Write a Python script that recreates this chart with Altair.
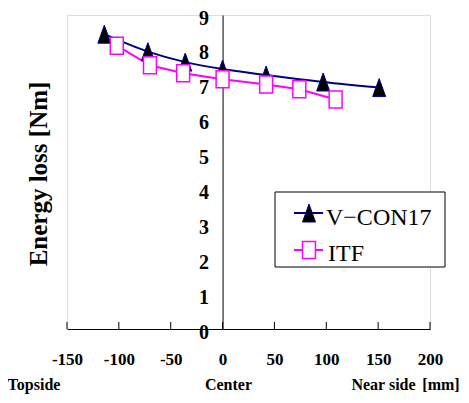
import altair as alt
import pandas as pd

# ---- data ----
series_names = ["V−CON17", "ITF"]
vcon_x = [-114, -72, -36, 0, 42, 97, 151]
vcon_y = [8.45, 7.95, 7.65, 7.45, 7.28, 7.08, 6.92]
itf_x = [-102, -70, -38, 0, 42, 74, 109]
itf_y = [8.12, 7.56, 7.33, 7.16, 7.01, 6.87, 6.58]
x_ticks = [-150, -100, -50, 0, 50, 100, 150, 200]
y_ticks = [0, 1, 2, 3, 4, 5, 6, 7, 8, 9]
y_title = "Energy loss [Nm]"
bottom_labels = ["Topside", "Center", "Near side", "[mm]"]

FONT = "'Liberation Serif', 'Times New Roman', Times, serif"
NAVY = "#000080"
MAGENTA = "#FF00FF"
TRI = "M0,-1L0.72,1L-0.72,1Z"
SQR = "M-0.76,-1L0.76,-1L0.76,1L-0.76,1Z"

W, H = 363, 314

vcon = pd.DataFrame({"x": vcon_x, "y": vcon_y, "s": series_names[0]})
itf = pd.DataFrame({"x": itf_x, "y": itf_y, "s": series_names[1]})
ticks = pd.DataFrame({"x": x_ticks})

xscale = alt.Scale(domain=[-150, 200], nice=False, zero=False)
yscale = alt.Scale(domain=[0, 9], nice=False)
xaxis = alt.Axis(values=x_ticks, title=None, grid=False, ticks=False, tickSize=0,
                 domainColor="black", domainWidth=1, labelPadding=22,
                 labelFont=FONT, labelFontSize=17, labelFontWeight="bold",
                 labelColor="black", labelOverlap=False, labelFlush=False,
                 labelExpr="replace(datum.label, '\u2212', '-')")
yaxis = alt.Axis(values=y_ticks, title=None, grid=False, ticks=False, tickSize=0,
                 offset=-(150 / 350) * W, domainColor="black", domainWidth=1,
                 labelPadding=14, labelFont=FONT, labelFontSize=20,
                 labelFontWeight="bold", labelColor="black", labelOffset=3,
                 labelOverlap=False, labelFlush=False)

X = alt.X("x:Q", scale=xscale, axis=xaxis)
Y = alt.Y("y:Q", scale=yscale, axis=yaxis)

tick_layer = alt.Chart(ticks).mark_rule(color="black", strokeWidth=1).encode(
    x=alt.X("x:Q", scale=xscale, axis=xaxis),
    y=alt.value(H), y2=alt.value(H - 7))

vcon_line = alt.Chart(vcon).mark_line(color=NAVY, strokeWidth=2, interpolate="monotone").encode(x=X, y=Y)
itf_line = alt.Chart(itf).mark_line(color=MAGENTA, strokeWidth=2).encode(x=X, y=Y)
vcon_pts = alt.Chart(vcon).mark_point(shape=TRI, size=324, filled=True, fill="black",
                                      stroke=NAVY, strokeWidth=1, opacity=1).encode(x=X, y=Y)
itf_pts = alt.Chart(itf).mark_point(shape=SQR, size=289, filled=True, fill="white",
                                    stroke=MAGENTA, strokeWidth=1.5, opacity=1).encode(x=X, y=Y)

one = pd.DataFrame({"a": [0]})

# legend
leg_box = alt.Chart(one).mark_rect(fill="white", stroke="black", strokeWidth=1).encode(
    x=alt.value(208), x2=alt.value(378), y=alt.value(177), y2=alt.value(252))
leg_l1 = alt.Chart(one).mark_rule(color=NAVY, strokeWidth=2).encode(
    x=alt.value(227), x2=alt.value(256), y=alt.value(198))
leg_l2 = alt.Chart(one).mark_rule(color=MAGENTA, strokeWidth=2).encode(
    x=alt.value(227), x2=alt.value(256), y=alt.value(235))
leg_p1 = alt.Chart(one).mark_point(shape=TRI, size=324, filled=True, fill="black",
                                   stroke=NAVY, strokeWidth=1, opacity=1).encode(
    x=alt.value(242), y=alt.value(198))
leg_p2 = alt.Chart(one).mark_point(shape=SQR, size=289, filled=True, fill="white",
                                   stroke=MAGENTA, strokeWidth=1.5, opacity=1).encode(
    x=alt.value(242), y=alt.value(235))
leg_t1 = alt.Chart(one).mark_text(font=FONT, fontSize=24, align="left", baseline="alphabetic",
                                  color="black").encode(
    x=alt.value(259), y=alt.value(210), text=alt.value(series_names[0]))
leg_t2 = alt.Chart(one).mark_text(font=FONT, fontSize=24, align="left", baseline="alphabetic",
                                  color="black").encode(
    x=alt.value(261), y=alt.value(246), text=alt.value(series_names[1]))

# titles / annotations
ytitle = alt.Chart(one).mark_text(font=FONT, fontSize=25, fontWeight="bold", angle=270,
                                  align="center", baseline="middle", color="black").encode(
    x=alt.value(-28), y=alt.value(159), text=alt.value(y_title))

bx = [-33, 161.5, 316.5, 374]
bottom = []
for lab, px in zip(bottom_labels, bx):
    bottom.append(alt.Chart(one).mark_text(font=FONT, fontSize=16, fontWeight="bold",
                                           align="center", baseline="alphabetic",
                                           color="black").encode(
        x=alt.value(px), y=alt.value(375), text=alt.value(lab)))

chart = alt.layer(
    tick_layer, vcon_line, itf_line, vcon_pts, itf_pts,
    leg_box, leg_l1, leg_l2, leg_p1, leg_p2, leg_t1, leg_t2,
    ytitle, *bottom
).properties(
    width=W, height=H,
    autosize=alt.AutoSizeParams(type="none"),
    padding={"left": 59, "top": 7, "right": 31, "bottom": 66},
).configure_view(stroke=None).configure(background="white")

chart.save("out.html", embed_options={"renderer": "svg", "actions": False})
